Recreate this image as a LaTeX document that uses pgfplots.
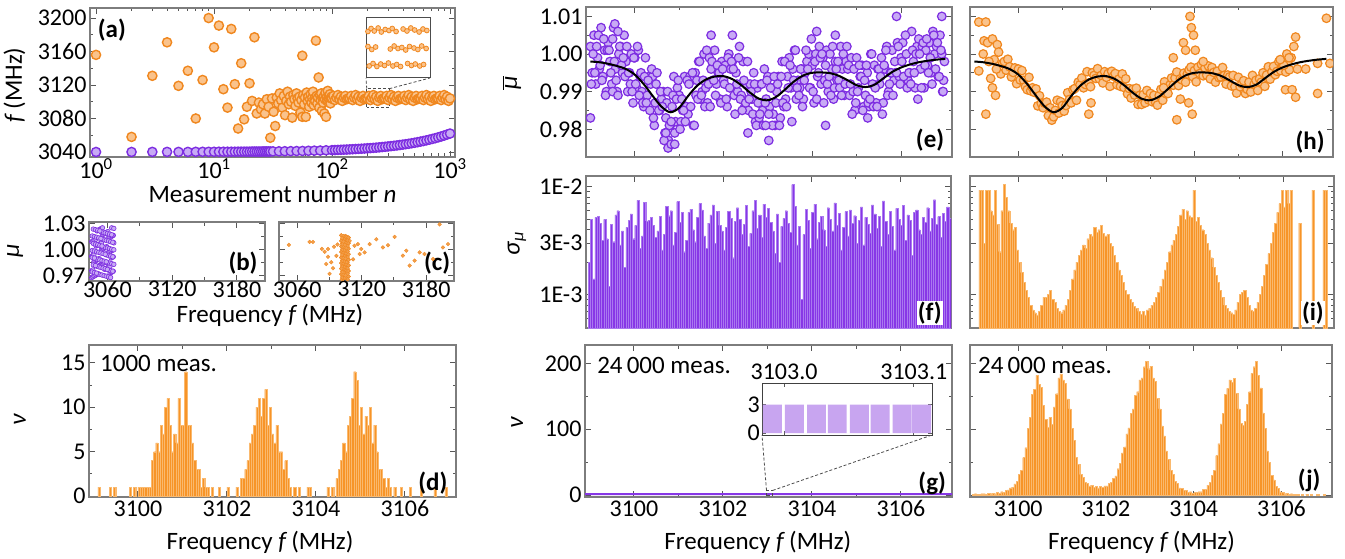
\documentclass[border=0pt]{standalone}
\usepackage{fontspec}
\setmainfont{Carlito}
\usepackage{pgfplots}
\pgfplotsset{compat=1.18}
\definecolor{oD}{RGB}{240,135,30}
\definecolor{oL}{RGB}{250,195,140}
\definecolor{oBar}{RGB}{247,148,40}
\definecolor{oEdge}{RGB}{250,185,110}
\definecolor{pD}{RGB}{125,45,225}
\definecolor{pL}{RGB}{200,170,245}
\definecolor{pBar}{RGB}{135,55,230}
\definecolor{pEdge}{RGB}{170,120,240}
\definecolor{pIn}{RGB}{200,165,240}
\definecolor{fr}{RGB}{125,125,125}
\newcommand{\tfont}{\fontsize{24}{26}\selectfont}
\newcommand{\lfont}{\fontsize{25}{28}\selectfont}
\tikzset{plabel/.style={font=\lfont\bfseries, inner sep=1pt}}
\pgfplotsset{
  panel/.style={scale only axis, anchor=north west, axis line style={fr, line width=1.1pt},
    tick style={fr!70!black, line width=0.9pt}, tick align=inside, major tick length=6pt, minor tick length=3.5pt,
    tick pos=both, tick label style={font=\tfont, text=black}, label style={font=\lfont},
    ylabel style={anchor=center}, xlabel style={anchor=center}},
  fgrid/.style={xmin=3098.9, xmax=3107.15, xtick={3100,3102,3104,3106}, minor x tick num=1},
  oMk/.style={only marks, mark=*, mark size=4.6pt, mark options={draw=oD, fill=oL, line width=1.4pt}},
  pMk/.style={only marks, mark=*, mark size=4.6pt, mark options={draw=pD, fill=pL, line width=1.4pt}},
  oMkS/.style={only marks, mark=*, mark size=4.3pt, mark options={draw=oD, fill=oL, line width=1.2pt}},
  pMkS/.style={only marks, mark=*, mark size=4.3pt, mark options={draw=pD, fill=pL, line width=1.2pt}},
}
\begin{document}
\begin{tikzpicture}
\path[use as bounding box] (0,0) rectangle (1345pt,-559pt);

% ---------------- (a)
\begin{axis}[panel, at={(90pt,-8pt)}, width=365pt, height=149pt,
  xmode=log, xmin=0.889, xmax=1102, ymin=3034, ymax=3212,
  xtick={1,10,100,1000}, xticklabels={10\textsuperscript{0},10\textsuperscript{1},10\textsuperscript{2},10\textsuperscript{3}},
  xticklabel style={inner sep=1pt},
  minor xtick={2,3,4,5,6,7,8,9,20,30,40,50,60,70,80,90,200,300,400,500,600,700,800,900},
  ytick={3040,3080,3120,3160,3200}, yticklabels={3040,3080,3120,3160,3200}, minor ytick={3060,3100,3140,3180},
  xlabel={Measurement number \textit{n}}, xlabel style={inner sep=0pt, at={(axis description cs:0.5,-0.25)}},
  ylabel={\textit{f}\,(MHz)}, ylabel style={at={(axis description cs:-0.207,0.483)}}]
\addplot[pMk] coordinates {(1,3040.0)(2,3040.0)(3,3040.1)(4,3040.1)(5,3040.1)(6,3040.1)(7,3040.2)(8,3040.2)(9,3040.2)(10,3040.2)
(11,3040.3)(12,3040.3)(13,3040.3)(14,3040.3)(15,3040.3)(16,3040.4)(17,3040.4)(18,3040.4)(19,3040.4)(20,3040.4)
(21,3040.5)(22,3040.5)(23,3040.5)(24,3040.5)(25,3040.5)(26,3040.6)(27,3040.6)(28,3040.6)(29,3040.6)(30,3040.6)
(31.6,3040.7)(35.5,3040.8)(39.8,3040.9)(44.7,3041.0)(50.1,3041.1)(56.2,3041.2)(63.1,3041.4)(70.8,3041.6)(79.4,3041.7)(89.1,3042.0)
(100,3042.2)(105.9,3042.3)(112.2,3042.5)(118.9,3042.6)(125.9,3042.8)(133.4,3042.9)(141.3,3043.1)(149.6,3043.3)(158.5,3043.5)(167.9,3043.7)
(177.8,3043.9)(188.4,3044.1)(199.5,3044.4)(211.3,3044.6)(223.9,3044.9)(237.1,3045.2)(251.2,3045.5)(266.1,3045.9)(281.8,3046.2)(298.5,3046.6)
(316.2,3047.0)(335,3047.4)(354.8,3047.8)(375.8,3048.3)(398.1,3048.8)(421.7,3049.3)(446.7,3049.8)(473.2,3050.4)(501.2,3051.0)(530.9,3051.7)
(562.3,3052.4)(595.7,3053.1)(631,3053.9)(668.3,3054.7)(707.9,3055.6)(749.9,3056.5)(794.3,3057.5)(841.4,3058.5)(891.3,3059.6)(944.1,3060.8)(1000,3062.0)};
\addplot[oMk] coordinates {(1,3156)(2,3058)(3,3131)(4,3171)(5,3119)(6,3137)(7,3080)(8,3126)(9,3200)(10,3165)
(11,3191)(12,3115)(13,3093)(14,3187)(15,3121)(16,3068)(17,3146)(18,3079)(19,3094)(20,3122)(21,3101)(22,3177)(23,3086)
(24,3099)(25,3091)(26,3097)(27,3086)(28,3103)(29,3094)(30,3057)(31,3104)(32,3088)(33,3071)(34,3105)(35,3098)(36,3110)(37,3102)(38,3093)(39,3107)
(40,3084)(41,3101)(42,3112)(43,3097)(44,3106)(45,3100)(46,3081)(47,3108)(48,3103)(49,3095)(50,3110)(51,3104)(52,3099)(53,3106)(54,3087)(55,3102)
(56,3155)(56,3082)(57,3108)(58,3097)(59,3105)(60,3082)(61,3111)(62,3101)(63,3106)(64,3094)(65,3103)(66,3109)(67,3099)(68,3105)(69,3112)(70,3096)
(71,3104)(72,3101)(73,3173)(74,3107)(75,3098)(76,3105)(77,3129)(78,3093)(79,3108)(80,3102)(81,3110)(82,3089)(83,3104)(84,3099)(85,3106)
(86,3086)(87,3103)(88,3111)(89,3082)(90,3105)(91,3101)(92,3113)(93,3100)(94,3107)(95,3103)(96,3109)(97,3098)(98,3104)(99,3106)
(100,3104)(102.9,3107)(105.9,3102)(109.0,3105)(112.2,3108)(115.5,3103)(118.9,3106)(122.3,3101)(125.9,3105)(129.6,3107)(133.4,3103)(137.2,3104)
(141.3,3104)(145.4,3107)(149.6,3102)(154.0,3105)(158.5,3108)(163.1,3103)(167.9,3106)(172.8,3101)(177.8,3105)(183.0,3107)(188.4,3103)(193.9,3104)
(199.5,3104)(205.4,3107)(211.3,3102)(217.5,3105)(223.9,3108)(230.4,3103)(237.1,3106)(244.1,3101)(251.2,3105)(258.5,3107)(266.1,3103)(273.8,3104)
(281.8,3104)(290.0,3107)(298.5,3102)(307.2,3105)(316.2,3108)(325.4,3103)(335.0,3106)(344.7,3101)(354.8,3105)(365.2,3107)(375.8,3103)(386.8,3104)
(398.1,3104)(409.7,3107)(421.7,3102)(434.0,3105)(446.7,3108)(459.7,3103)(473.2,3106)(487.0,3101)(501.2,3105)(515.8,3107)(530.9,3103)(546.4,3104)
(562.3,3104)(578.7,3107)(595.7,3102)(613.1,3105)(631.0,3108)(649.4,3103)(668.3,3106)(687.8,3101)(707.9,3105)(728.6,3107)(749.9,3103)(771.8,3104)
(794.3,3104)(817.5,3107)(841.4,3102)(866.0,3105)(891.3,3108)(917.3,3103)(944.1,3106)(971.6,3101)(1000,3104)};
\draw[densely dashed, black!70, line width=0.8pt] (axis cs:197,3093.5) rectangle (axis cs:306,3115.6);
\coordinate (rTL) at (axis cs:197,3115.6);
\coordinate (rTR) at (axis cs:306,3115.6);
\node[plabel] at (rel axis cs:0.06,0.852) {(a)};
\end{axis}
\begin{axis}[panel, at={(366pt,-18pt)}, width=64pt, height=60pt, xmin=200, xmax=300, ymin=3098, ymax=3110,
  xtick=\empty, ytick=\empty, axis background/.style={fill=white}, axis line style={black!70, line width=1pt}]
\addplot[only marks, mark=*, mark size=2.4pt, mark options={draw=oD, fill=oL, line width=0.8pt}] coordinates {
(203,3107.3)(208,3107.9)(213,3107.4)(219,3108.0)(224,3107.2)(230,3107.7)(236,3107.5)(241,3107.9)(247,3107.3)(258,3107.8)(264,3107.4)(270,3108.0)(276,3107.6)(283,3107.2)(289,3107.8)(295,3107.5)
(203,3104.3)(209,3103.7)(215,3104.2)(238,3103.8)(244,3104.4)(250,3103.9)(256,3104.1)(262,3103.6)(268,3104.3)(275,3104.0)(281,3103.7)(287,3104.4)(294,3103.9)
(205,3100.4)(211,3100.9)(217,3100.3)(223,3100.8)(229,3100.5)(235,3101.0)(242,3100.4)(248,3100.7)(254,3100.3)(265,3100.9)(271,3100.5)(277,3100.8)(284,3100.4)(290,3100.7)};
\end{axis}
\draw[densely dashed, black!70, line width=0.8pt] (rTL) -- (366pt,-78pt);
\draw[densely dashed, black!70, line width=0.8pt] (rTR) -- (430pt,-78pt);

% ---------------- (b)
\begin{axis}[panel, at={(89pt,-222pt)}, width=176pt, height=59pt,
  xmin=3043, xmax=3206, ymin=0.964, ymax=1.032,
  xtick={3060,3120,3180}, xticklabels={3060,3120,3180}, minor x tick num=1,
  xticklabel style={inner sep=0pt},
  ytick={0.97,1.00,1.03}, yticklabels={0.97,1.00,1.03}, minor y tick num=1,
  ylabel={\textit{μ}}, ylabel style={at={(axis description cs:-0.42,0.508)}},
  xlabel={Frequency \textit{f}\,(MHz)}, xlabel style={inner sep=0pt, at={(axis description cs:1.028,-0.59)}}]
\addplot[only marks, mark=*, mark size=2.3pt, mark options={draw=pD, fill=pL, line width=0.6pt}] coordinates {
(3045.5,0.9680)(3058.5,0.9948)(3050.5,1.0217)(3063.5,0.9905)(3055.5,1.0173)(3047.5,0.9861)(3060.5,1.0130)(3052.5,0.9818)(3065.5,1.0086)(3057.5,0.9774)
(3049.5,1.0043)(3062.5,0.9731)(3054.5,1.0000)(3046.5,0.9687)(3059.5,0.9956)(3051.5,1.0224)(3064.5,0.9912)(3056.5,1.0180)(3048.5,0.9869)(3061.5,1.0137)
(3053.5,0.9825)(3045.5,1.0093)(3058.5,0.9782)(3050.5,1.0050)(3063.5,0.9738)(3055.5,1.0006)(3047.5,0.9695)(3060.5,0.9963)(3052.5,1.0231)(3065.5,0.9919)
(3057.5,1.0188)(3049.5,0.9876)(3062.5,1.0144)(3054.5,0.9832)(3046.5,1.0101)(3059.5,0.9789)(3051.5,1.0057)(3064.5,0.9745)(3056.5,1.0014)(3048.5,0.9702)
(3061.5,0.9970)(3053.5,1.0238)(3045.5,0.9927)(3058.5,1.0195)(3050.5,0.9883)(3063.5,1.0151)(3055.5,0.9840)(3047.5,1.0108)(3060.5,0.9796)(3052.5,1.0064)
(3065.5,0.9753)(3057.5,1.0021)(3049.5,0.9709)(3062.5,0.9977)(3054.5,1.0246)(3046.5,0.9934)(3059.5,1.0202)(3051.5,0.9890)(3064.5,1.0159)(3056.5,0.9847)
(3048.5,1.0115)(3061.5,0.9803)(3053.5,1.0072)(3045.5,0.9760)(3058.5,1.0028)(3050.5,0.9716)(3063.5,0.9985)(3055.5,1.0253)(3047.5,0.9941)(3060.5,1.0209)
(3052.5,0.9898)(3065.5,1.0166)(3057.5,0.9854)(3049.5,1.0122)(3062.5,0.9811)(3054.5,1.0079)(3046.5,0.9767)(3059.5,1.0035)(3051.5,0.9724)(3064.5,0.9992)
(3046.0,0.9992)(3051.0,0.9724)(3056.0,1.0035)(3061.0,0.9767)(3066.0,1.0079)(3050.0,0.9811)(3055.0,1.0122)(3060.0,0.9854)(3065.0,1.0166)(3049.0,0.9898)
(3054.0,1.0209)(3059.0,0.9941)(3064.0,1.0253)(3048.0,0.9985)(3053.0,0.9716)(3058.0,1.0028)(3063.0,0.9760)(3047.0,1.0072)(3052.0,0.9803)(3057.0,1.0115)
(3062.0,0.9847)(3046.0,1.0159)(3051.0,0.9890)(3056.0,1.0202)(3061.0,0.9934)(3066.0,1.0246)(3050.0,0.9977)(3055.0,0.9709)(3060.0,1.0021)(3065.0,0.9753)
(3049.0,1.0064)(3054.0,0.9796)(3059.0,1.0108)(3064.0,0.9840)(3048.0,1.0151)(3053.0,0.9883)(3058.0,1.0195)(3063.0,0.9927)(3047.0,1.0238)(3052.0,0.9970)
(3057.0,0.9702)(3062.0,1.0014)(3046.0,0.9745)(3051.0,1.0057)(3056.0,0.9789)(3061.0,1.0101)(3066.0,0.9832)(3050.0,1.0144)(3055.0,0.9876)(3060.0,1.0188)
(3065.0,0.9919)(3049.0,1.0231)(3054.0,0.9963)(3059.0,0.9695)(3064.0,1.0006)(3048.0,0.9738)(3053.0,1.0050)(3058.0,0.9782)(3063.0,1.0093)(3047.0,0.9825)
(3052.0,1.0137)(3057.0,0.9869)(3062.0,1.0180)(3046.0,0.9912)(3051.0,1.0224)(3056.0,0.9956)(3061.0,0.9687)(3066.0,1.0000)(3050.0,0.9731)(3055.0,1.0043)
(3060.0,0.9774)(3065.0,1.0086)(3049.0,0.9818)(3054.0,1.0130)(3059.0,0.9861)(3064.0,1.0173)(3048.0,0.9905)(3053.0,1.0217)(3058.0,0.9948)(3063.0,0.9680)};
\node[plabel] at (rel axis cs:0.875,0.305) {(b)};
\end{axis}

% ---------------- (c)
\begin{axis}[panel, at={(279pt,-222pt)}, width=175pt, height=59pt,
  xmin=3043, xmax=3206, ymin=0.964, ymax=1.032,
  xtick={3060,3120,3180}, xticklabels={3060,3120,3180}, minor x tick num=1,
  xticklabel style={inner sep=0pt},
  ytick={0.97,1.00,1.03}, yticklabels={}, minor y tick num=1]
\addplot[only marks, mark=*, mark size=1.9pt, mark options={draw=oD, fill=oD!80, line width=0.3pt}] coordinates {
(3101.5,0.9660)(3104.0,0.9897)(3106.5,1.0134)(3102.8,0.9858)(3105.2,1.0095)(3108.0,0.9820)(3103.3,1.0057)(3100.9,0.9782)(3107.2,1.0018)(3104.6,0.9743)
(3101.5,0.9980)(3104.0,0.9705)(3106.5,0.9942)(3102.8,0.9666)(3105.2,0.9903)(3108.0,1.0140)(3103.3,0.9865)(3100.9,1.0102)(3107.2,0.9826)(3104.6,1.0063)
(3101.5,0.9788)(3104.0,1.0025)(3106.5,0.9750)(3102.8,0.9986)(3105.2,0.9711)(3108.0,0.9948)(3103.3,0.9673)(3100.9,0.9910)(3107.2,1.0146)(3104.6,0.9871)
(3101.5,1.0108)(3104.0,0.9833)(3106.5,1.0070)(3102.8,0.9794)(3105.2,1.0031)(3108.0,0.9756)(3103.3,0.9993)(3100.9,0.9718)(3107.2,0.9954)(3104.6,0.9679)
(3101.5,0.9916)(3104.0,1.0153)(3106.5,0.9878)(3102.8,1.0114)(3105.2,0.9839)(3108.0,1.0076)(3103.3,0.9801)(3100.9,1.0038)(3107.2,0.9762)(3104.6,0.9999)
(3101.5,0.9724)(3104.0,0.9961)(3106.5,0.9686)(3102.8,0.9922)(3105.2,1.0159)(3108.0,0.9884)(3103.3,1.0121)(3100.9,0.9846)(3107.2,1.0082)(3104.6,0.9807)
(3101.5,1.0044)(3104.0,0.9769)(3106.5,1.0006)(3102.8,0.9730)(3105.2,0.9967)(3108.0,0.9692)(3103.3,0.9929)(3100.9,1.0166)(3107.2,0.9890)(3104.6,1.0127)
(3101.5,0.9852)(3104.0,1.0089)(3106.5,0.9814)(3102.8,1.0050)(3105.2,0.9775)(3108.0,1.0012)(3103.3,0.9737)(3100.9,0.9974)(3107.2,0.9698)(3104.6,0.9935)
(3102.2,0.9935)(3105.8,0.9698)(3101.2,0.9974)(3104.3,0.9737)(3107.6,1.0012)(3103.0,0.9775)(3106.0,1.0050)(3101.8,0.9814)(3104.9,1.0089)(3107.0,0.9852)
(3102.2,1.0127)(3105.8,0.9890)(3101.2,1.0166)(3104.3,0.9929)(3107.6,0.9692)(3103.0,0.9967)(3106.0,0.9730)(3101.8,1.0006)(3104.9,0.9769)(3107.0,1.0044)
(3102.2,0.9807)(3105.8,1.0082)(3101.2,0.9846)(3104.3,1.0121)(3107.6,0.9884)(3103.0,1.0159)(3106.0,0.9922)(3101.8,0.9686)(3104.9,0.9961)(3107.0,0.9724)
(3102.2,0.9999)(3105.8,0.9762)(3101.2,1.0038)(3104.3,0.9801)(3107.6,1.0076)(3103.0,0.9839)(3106.0,1.0114)(3101.8,0.9878)(3104.9,1.0153)(3107.0,0.9916)
(3102.2,0.9679)(3105.8,0.9954)(3101.2,0.9718)(3104.3,0.9993)(3107.6,0.9756)(3103.0,1.0031)(3106.0,0.9794)(3101.8,1.0070)(3104.9,0.9833)(3107.0,1.0108)
(3102.2,0.9871)(3105.8,1.0146)(3101.2,0.9910)(3104.3,0.9673)(3107.6,0.9948)(3103.0,0.9711)(3106.0,0.9986)(3101.8,0.9750)(3104.9,1.0025)(3107.0,0.9788)
(3102.2,1.0063)(3105.8,0.9826)(3101.2,1.0102)(3104.3,0.9865)(3107.6,1.0140)(3103.0,0.9903)(3106.0,0.9666)(3101.8,0.9942)(3104.9,0.9705)(3107.0,0.9980)
(3102.2,0.9743)(3105.8,1.0018)(3101.2,0.9782)(3104.3,1.0057)(3107.6,0.9820)(3103.0,1.0095)(3106.0,0.9858)(3101.8,1.0134)(3104.9,0.9897)(3107.0,0.9660)
(3052.2,1.0057)(3071.5,1.0090)(3074.6,1.0090)(3085.5,0.9977)(3088.6,0.9920)(3091.7,0.9856)(3087.0,0.9837)(3093.2,0.9787)(3090.1,0.9723)(3088.6,1.0008)
(3094.2,1.0034)(3116.5,1.0065)(3119.6,1.0008)(3122.7,0.9970)(3127.4,1.0065)(3133.6,1.0120)(3139.8,1.0027)(3144.5,1.0053)(3150.7,1.0148)(3158.4,0.9932)
(3161.6,0.9989)(3169.3,0.9875)(3174.0,0.9970)(3178.6,0.9951)(3186.4,0.9894)(3192.6,1.0292)(3195.7,1.0027)(3200.4,1.0065)(3164.7,0.9818)(3108.8,1.0103)
(3113.4,1.0046)(3118.1,0.9951)(3096.5,0.9930)(3097.5,1.0060)(3112.0,0.9890)(3083.0,1.0010)};
\node[plabel] at (rel axis cs:0.903,0.305) {(c)};
\end{axis}

% ---------------- (d)
\begin{axis}[panel, fgrid, at={(89pt,-345pt)}, width=367pt, height=152pt,
  ymin=-0.1, ymax=17, xticklabels={3100,3102,3104,3106},
  ytick={0,5,10,15}, yticklabels={0,5,10,15}, minor y tick num=1,
  ylabel={\textit{ν}}, ylabel style={at={(axis description cs:-0.188,0.507)}},
  xlabel={Frequency \textit{f}\,(MHz)}, xlabel style={at={(axis description cs:0.466,-0.296)}}]
\addplot[ybar, bar width=0.05, bar shift=0pt, fill=oBar, draw=oEdge, line width=0.3pt] coordinates {
(3099.125,1)(3099.375,1)(3099.475,1)(3099.825,1)(3099.925,1)(3100.025,1)(3100.075,1)(3100.125,1)(3100.175,1)(3100.225,1)(3100.275,1)
(3100.325,4)(3100.375,5)(3100.425,6)(3100.475,5)(3100.525,8)(3100.575,7)(3100.625,10)(3100.675,11)(3100.725,8)(3100.775,5)(3100.825,7)(3100.875,6)
(3100.925,11)(3100.975,8)(3101.025,8)(3101.075,14)(3101.125,8)(3101.175,8)(3101.225,6)(3101.275,4)(3101.325,3)(3101.375,3)(3101.425,1)(3101.475,2)
(3101.525,1)(3101.575,1)(3101.675,1)(3101.825,1)(3102.025,1)(3102.225,1)(3102.325,2)(3102.375,2)(3102.425,3)(3102.475,4)(3102.525,6)(3102.575,7)
(3102.625,8)(3102.675,10)(3102.725,11)(3102.775,9)(3102.825,11)(3102.875,12)(3102.925,8)(3102.975,10)(3103.025,7)(3103.075,6)(3103.125,8)(3103.175,5)
(3103.225,5)(3103.275,3)(3103.325,4)(3103.375,2)(3103.425,1)(3103.525,1)(3103.625,1)(3103.825,1)(3103.875,1)(3104.275,1)(3104.375,1)(3104.475,2)
(3104.525,3)(3104.575,4)(3104.625,6)(3104.675,5)(3104.725,8)(3104.775,9)(3104.825,11)(3104.875,14)(3104.925,13)(3104.975,8)(3105.025,10)(3105.075,7)
(3105.125,9)(3105.175,8)(3105.225,10)(3105.275,6)(3105.325,8)(3105.375,5)(3105.425,3)(3105.475,3)(3105.525,2)(3105.575,1)(3105.625,2)(3105.675,1)
(3105.775,1)(3105.925,1)(3106.125,1)(3106.375,1)(3106.675,1)(3106.925,1)};
\node[font=\lfont, anchor=west, inner sep=0pt] at (rel axis cs:0.03,0.88) {1000 meas.};
\node[plabel] at (rel axis cs:0.937,0.092) {(d)};
\end{axis}

% ---------------- (e)
\begin{axis}[panel, fgrid, clip marker paths=true, at={(586pt,-7pt)}, width=366pt, height=150pt,
  ymin=0.9726, ymax=1.0125, xticklabels={},
  ytick={0.98,0.99,1.00,1.01}, yticklabels={0.98,0.99,1.00,1.01}, minor y tick num=1,
  ylabel={$\overline{\mbox{\itshape μ}}$}, ylabel style={at={(axis description cs:-0.202,0.493)}}]
\addplot[pMkS] coordinates {
(3099.00,1.002)(3099.04,0.995)(3099.08,1.005)(3099.12,0.992)(3099.16,0.999)(3099.20,0.996)(3099.24,1.007)(3099.28,0.994)(3099.32,1.001)(3099.36,0.990)
(3099.40,1.003)(3099.44,0.998)(3099.48,0.992)(3099.52,1.007)(3099.56,0.996)(3099.60,0.990)(3099.64,1.000)(3099.68,1.002)(3099.72,0.995)(3099.76,1.005)
(3099.80,0.998)(3099.84,0.990)(3099.88,0.995)(3099.92,1.000)(3099.96,0.987)(3100.00,0.999)(3100.04,0.991)(3100.08,1.001)(3100.12,0.994)(3100.16,0.990)
(3100.20,0.986)(3100.24,0.999)(3100.28,0.989)(3100.32,0.994)(3100.36,0.992)(3100.40,0.994)(3100.44,0.981)(3100.48,0.992)(3100.52,0.987)(3100.56,0.985)
(3100.60,0.988)(3100.64,0.990)(3100.68,0.979)(3100.72,0.987)(3100.76,0.977)(3100.80,0.981)(3100.84,0.986)(3100.88,0.994)(3100.92,0.982)(3100.96,0.991)
(3101.00,0.989)(3101.04,0.982)(3101.08,0.985)(3101.12,0.994)(3101.16,0.986)(3101.20,0.984)(3101.24,0.994)(3101.28,0.993)(3101.32,0.981)(3101.36,0.995)
(3101.40,0.993)(3101.44,0.998)(3101.48,0.988)(3101.52,0.990)(3101.56,1.000)(3101.60,0.991)(3101.64,0.987)(3101.68,0.999)(3101.72,0.996)(3101.76,0.993)
(3101.80,1.001)(3101.84,0.992)(3101.88,0.995)(3101.92,0.988)(3101.96,0.998)(3102.00,0.993)(3102.04,0.997)(3102.08,0.986)(3102.12,1.000)(3102.16,0.996)
(3102.20,0.998)(3102.24,0.989)(3102.28,0.995)(3102.32,0.990)(3102.36,1.002)(3102.40,0.989)(3102.44,0.998)(3102.48,0.986)(3102.52,0.992)(3102.56,0.985)
(3102.60,0.992)(3102.64,0.988)(3102.68,0.995)(3102.72,0.982)(3102.76,0.991)(3102.80,0.983)(3102.84,0.992)(3102.88,0.985)(3102.92,0.996)(3102.96,0.988)
(3103.00,0.994)(3103.04,0.986)(3103.08,0.991)(3103.12,0.984)(3103.16,0.981)(3103.20,0.990)(3103.24,0.994)(3103.28,0.983)(3103.32,0.998)(3103.36,0.986)
(3103.40,0.988)(3103.44,0.994)(3103.48,0.999)(3103.52,0.991)(3103.56,0.996)(3103.60,1.001)(3103.64,0.988)(3103.68,0.993)(3103.72,0.991)(3103.76,0.996)
(3103.80,0.988)(3103.84,0.995)(3103.88,0.998)(3103.92,1.000)(3103.96,0.991)(3104.00,0.997)(3104.04,0.987)(3104.08,1.000)(3104.12,0.994)(3104.16,1.002)
(3104.20,0.992)(3104.24,0.999)(3104.28,0.993)(3104.32,1.001)(3104.36,0.990)(3104.40,1.000)(3104.44,0.996)(3104.48,0.988)(3104.52,0.998)(3104.56,0.993)
(3104.60,0.993)(3104.64,1.002)(3104.68,0.996)(3104.72,0.989)(3104.76,0.998)(3104.80,0.996)(3104.84,0.989)(3104.88,0.999)(3104.92,0.990)(3104.96,0.985)
(3105.00,0.999)(3105.04,0.991)(3105.08,0.994)(3105.12,0.997)(3105.16,0.986)(3105.20,0.989)(3105.24,0.995)(3105.28,0.986)(3105.32,1.000)(3105.36,0.992)
(3105.40,0.997)(3105.44,0.987)(3105.48,0.996)(3105.52,0.992)(3105.56,0.999)(3105.60,0.987)(3105.64,0.996)(3105.68,1.002)(3105.72,0.990)(3105.76,0.995)
(3105.80,1.001)(3105.84,0.993)(3105.88,0.995)(3105.92,1.003)(3105.96,0.994)(3106.00,0.999)(3106.04,1.003)(3106.08,0.992)(3106.12,1.000)(3106.16,0.993)
(3106.20,0.995)(3106.24,1.006)(3106.28,0.998)(3106.32,0.991)(3106.36,1.002)(3106.40,1.004)(3106.44,0.996)(3106.48,1.002)(3106.52,0.991)(3106.56,1.001)
(3106.60,0.997)(3106.64,1.003)(3106.68,0.995)(3106.72,1.006)(3106.76,1.000)(3106.80,1.002)(3106.84,0.994)(3106.88,1.005)(3106.92,1.000)(3106.96,0.993)
(3099.02,0.992)(3099.06,1.000)(3099.10,0.995)(3099.14,1.002)(3099.18,1.005)(3099.22,0.997)(3099.26,0.993)(3099.30,1.004)(3099.34,0.989)(3099.38,1.001)
(3099.42,1.001)(3099.46,0.995)(3099.50,0.990)(3099.54,0.998)(3099.58,0.993)(3099.62,0.989)(3099.66,1.002)(3099.70,0.997)(3099.74,0.999)(3099.78,0.994)
(3099.82,1.002)(3099.86,0.995)(3099.90,0.992)(3099.94,0.990)(3099.98,0.999)(3100.02,0.992)(3100.06,1.002)(3100.10,0.989)(3100.14,0.995)(3100.18,0.987)
(3100.22,0.994)(3100.26,0.987)(3100.30,0.993)(3100.34,0.985)(3100.38,0.996)(3100.42,0.983)(3100.46,0.987)(3100.50,0.995)(3100.54,0.985)(3100.58,0.990)
(3100.62,0.986)(3100.66,0.977)(3100.70,0.983)(3100.74,0.990)(3100.78,0.981)(3100.82,0.982)(3100.86,0.989)(3100.90,0.979)(3100.94,0.988)(3100.98,0.993)
(3101.02,0.980)(3101.06,0.988)(3101.10,0.985)(3101.14,0.982)(3101.18,0.993)(3101.22,0.992)(3101.26,0.986)(3101.30,0.995)(3101.34,0.981)(3101.38,0.989)
(3101.42,0.988)(3101.46,0.998)(3101.50,0.989)(3101.54,0.993)(3101.58,0.986)(3101.62,1.001)(3101.66,0.992)(3101.70,0.986)(3101.74,0.998)(3101.78,0.993)
(3101.82,0.989)(3101.86,0.997)(3101.90,0.995)(3101.94,0.987)(3101.98,0.996)(3102.02,0.992)(3102.06,0.988)(3102.10,0.999)(3102.14,0.991)(3102.18,0.998)
(3102.22,0.996)(3102.26,0.984)(3102.30,0.992)(3102.34,0.999)(3102.38,0.988)(3102.42,0.985)(3102.46,0.993)(3102.50,0.987)(3102.54,0.998)(3102.58,0.988)
(3102.62,0.990)(3102.66,0.984)(3102.70,0.992)(3102.74,0.981)(3102.78,0.987)(3102.82,0.984)(3102.86,0.992)(3102.90,0.981)(3102.94,0.987)(3102.98,0.993)
(3103.02,0.984)(3103.06,0.991)(3103.10,0.981)(3103.14,0.994)(3103.18,0.987)(3103.22,0.992)(3103.26,0.981)(3103.30,0.994)(3103.34,0.987)(3103.38,0.998)
(3103.42,0.986)(3103.46,0.991)(3103.50,0.997)(3103.54,0.982)(3103.58,0.993)(3103.62,1.001)(3103.66,0.991)(3103.70,0.989)(3103.74,0.996)(3103.78,0.986)
(3103.82,0.993)(3103.86,1.001)(3103.90,0.996)(3103.94,0.991)(3103.98,1.004)(3104.02,0.990)(3104.06,0.998)(3104.10,0.988)(3104.14,0.995)(3104.18,0.999)
(3104.22,1.000)(3104.26,0.987)(3104.30,0.997)(3104.34,0.992)(3104.38,0.994)(3104.42,0.989)(3104.46,1.002)(3104.50,0.991)(3104.54,0.996)(3104.58,0.998)
(3104.62,0.991)(3104.66,0.989)(3104.70,1.000)(3104.74,0.992)(3104.78,1.002)(3104.82,0.997)(3104.86,0.992)(3104.90,0.984)(3104.94,0.996)(3104.98,0.987)
(3105.02,0.990)(3105.06,0.997)(3105.10,0.994)(3105.14,0.985)(3105.18,0.993)(3105.22,0.997)(3105.26,0.987)(3105.30,0.988)(3105.34,1.000)(3105.38,0.986)
(3105.42,0.991)(3105.46,0.986)(3105.50,0.996)(3105.54,0.994)(3105.58,0.984)(3105.62,0.997)(3105.66,1.001)(3105.70,0.989)(3105.74,0.992)(3105.78,0.995)
(3105.82,0.989)(3105.86,0.998)(3105.90,0.995)(3105.94,1.002)(3105.98,0.992)(3106.02,0.998)(3106.06,0.994)(3106.10,1.005)(3106.14,0.991)(3106.18,0.995)
(3106.22,0.992)(3106.26,1.001)(3106.30,0.995)(3106.34,1.000)(3106.38,0.988)(3106.42,1.000)(3106.46,0.991)(3106.50,1.003)(3106.54,0.997)(3106.58,1.004)
(3106.62,0.995)(3106.66,0.999)(3106.70,0.992)(3106.74,1.005)(3106.78,0.996)(3106.82,1.003)(3106.86,0.994)(3106.90,1.001)(3106.94,0.990)(3106.98,0.998)
(3099.55,1.008)(3099.62,1.006)(3099.50,1.004)(3100.75,0.975)(3100.82,0.976)(3100.90,0.976)(3100.70,0.979)(3102.55,0.979)(3103.02,0.977)(3102.95,0.981)
(3105.90,1.010)(3106.92,1.010)(3101.72,1.005)(3102.20,1.005)(3104.10,1.006)(3104.52,1.005)(3104.30,0.981)(3105.25,0.983)(3099.00,0.983)(3106.95,0.990)};
\addplot[black, line width=2pt, smooth] coordinates {(3099.0,0.9980)(3099.2,0.9978)(3099.4,0.9974)(3099.6,0.9968)(3099.8,0.9960)(3100.0,0.9945)(3100.2,0.9920)(3100.4,0.9889)(3100.6,0.9860)(3100.8,0.9845)(3101.0,0.9857)(3101.2,0.9888)(3101.4,0.9915)(3101.6,0.9932)(3101.8,0.9940)(3102.0,0.9941)(3102.2,0.9933)(3102.4,0.9917)(3102.6,0.9897)(3102.8,0.9881)(3103.0,0.9877)(3103.2,0.9887)(3103.4,0.9907)(3103.6,0.9928)(3103.8,0.9943)(3104.0,0.9950)(3104.2,0.9951)(3104.4,0.9949)(3104.6,0.9942)(3104.8,0.9930)(3105.0,0.9917)(3105.2,0.9912)(3105.4,0.9918)(3105.6,0.9935)(3105.8,0.9952)(3106.0,0.9964)(3106.2,0.9972)(3106.4,0.9978)(3106.6,0.9982)(3106.8,0.9985)(3107.0,0.9987)};
\node[plabel] at (rel axis cs:0.94,0.113) {(e)};
\end{axis}

% ---------------- (f)
\begin{axis}[panel, fgrid, at={(586pt,-176pt)}, width=365pt, height=152pt,
  ymode=log, log origin y=infty, ymin=4.9e-4, ymax=1.26e-2, xticklabels={},
  ytick={1e-3,3e-3,1e-2}, yticklabels={1E-3,3E-3,1E-2},
  minor ytick={5e-4,6e-4,7e-4,8e-4,9e-4,2e-3,4e-3,5e-3,6e-3,7e-3,8e-3,9e-3},
  ylabel={\textit{σ}\textsubscript{\textit{μ}}}, ylabel style={at={(axis description cs:-0.189,0.553)}}]
\addplot[ybar, bar width=0.05, bar shift=0pt, fill=pBar, draw=pEdge, line width=0.3pt] coordinates {
(3098.975,2.0e-3)(3099.025,5.0e-3)(3099.075,1.4e-3)(3099.125,5.2e-3)(3099.175,5.3e-3)(3099.225,4.6e-3)(3099.275,3.2e-3)(3099.325,5.0e-3)(3099.375,3.3e-3)(3099.425,1.2e-3)
(3099.475,4.5e-3)(3099.525,3.1e-3)(3099.575,5.5e-3)(3099.625,6.0e-3)(3099.675,2.9e-3)(3099.725,3.9e-3)(3099.775,1.8e-3)(3099.825,4.2e-3)(3099.875,4.9e-3)(3099.925,5.6e-3)
(3099.975,3.3e-3)(3100.025,4.4e-3)(3100.075,7.5e-3)(3100.125,2.7e-3)(3100.175,3.5e-3)(3100.225,7.2e-3)(3100.275,4.8e-3)(3100.325,4.9e-3)(3100.375,5.2e-3)(3100.425,4.4e-3)
(3100.475,3.4e-3)(3100.525,3.9e-3)(3100.575,5.3e-3)(3100.625,2.6e-3)(3100.675,3.6e-3)(3100.725,6.6e-3)(3100.775,5.4e-3)(3100.825,6.0e-3)(3100.875,2.9e-3)(3100.925,3.8e-3)
(3100.975,7.3e-3)(3101.025,4.7e-3)(3101.075,5.8e-3)(3101.125,2.5e-3)(3101.175,3.2e-3)(3101.225,5.8e-3)(3101.275,6.2e-3)(3101.325,4.0e-3)(3101.375,3.1e-3)(3101.425,5.2e-3)
(3101.475,7.0e-3)(3101.525,6.1e-3)(3101.575,3.5e-3)(3101.625,2.7e-3)(3101.675,4.6e-3)(3101.725,5.5e-3)(3101.775,6.8e-3)(3101.825,3.0e-3)(3101.875,5.9e-3)(3101.925,4.4e-3)
(3101.975,3.9e-3)(3102.025,2.6e-3)(3102.075,4.2e-3)(3102.125,5.9e-3)(3102.175,5.1e-3)(3102.225,2.2e-3)(3102.275,4.8e-3)(3102.325,6.4e-3)(3102.375,5.0e-3)(3102.425,3.6e-3)
(3102.475,4.5e-3)(3102.525,6.7e-3)(3102.575,2.8e-3)(3102.625,3.7e-3)(3102.675,6.0e-3)(3102.725,7.5e-3)(3102.775,4.1e-3)(3102.825,5.5e-3)(3102.875,3.4e-3)(3102.925,6.9e-3)
(3102.975,5.2e-3)(3103.025,6.3e-3)(3103.075,4.7e-3)(3103.125,3.9e-3)(3103.175,2.4e-3)(3103.225,5.6e-3)(3103.275,2.0e-3)(3103.325,4.3e-3)(3103.375,5.1e-3)(3103.425,6.0e-3)
(3103.475,4.6e-3)(3103.525,3.8e-3)(3103.575,10.5e-3)(3103.625,6.6e-3)(3103.675,2.9e-3)(3103.725,4.3e-3)(3103.775,0.9e-3)(3103.825,3.6e-3)(3103.875,6.2e-3)(3103.925,4.9e-3)
(3103.975,2.7e-3)(3104.025,5.8e-3)(3104.075,6.9e-3)(3104.125,3.3e-3)(3104.175,4.7e-3)(3104.225,5.3e-3)(3104.275,4.0e-3)(3104.325,2.8e-3)(3104.375,6.4e-3)(3104.425,5.0e-3)
(3104.475,3.9e-3)(3104.525,7.1e-3)(3104.575,4.4e-3)(3104.625,5.7e-3)(3104.675,2.6e-3)(3104.725,4.2e-3)(3104.775,5.9e-3)(3104.825,3.5e-3)(3104.875,6.1e-3)(3104.925,4.6e-3)
(3104.975,5.4e-3)(3105.025,3.0e-3)(3105.075,4.9e-3)(3105.125,6.5e-3)(3105.175,2.9e-3)(3105.225,5.2e-3)(3105.275,4.5e-3)(3105.325,3.7e-3)(3105.375,6.8e-3)(3105.425,5.6e-3)
(3105.475,4.1e-3)(3105.525,5.3e-3)(3105.575,2.8e-3)(3105.625,7.4e-3)(3105.675,4.8e-3)(3105.725,3.6e-3)(3105.775,5.9e-3)(3105.825,4.3e-3)(3105.875,2.6e-3)(3105.925,6.3e-3)
(3105.975,5.0e-3)(3106.025,4.4e-3)(3106.075,6.7e-3)(3106.125,3.2e-3)(3106.175,5.5e-3)(3106.225,4.9e-3)(3106.275,2.3e-3)(3106.325,5.8e-3)(3106.375,6.1e-3)(3106.425,4.0e-3)
(3106.475,3.6e-3)(3106.525,5.2e-3)(3106.575,4.7e-3)(3106.625,6.4e-3)(3106.675,3.9e-3)(3106.725,5.1e-3)(3106.775,7.6e-3)(3106.825,4.5e-3)(3106.875,5.3e-3)(3106.925,3.4e-3)
(3106.975,5.7e-3)(3107.025,4.8e-3)(3107.075,6.5e-3)(3107.125,5.1e-3)};
\node[plabel, fill=white] at (rel axis cs:0.942,0.099) {(f)};
\end{axis}

% ---------------- (g)
\begin{axis}[panel, fgrid, at={(585pt,-345pt)}, width=367pt, height=152pt,
  ymin=-3, ymax=228, xticklabels={3100,3102,3104,3106},
  ytick={0,100,200}, yticklabels={0,100,200}, minor y tick num=1,
  ylabel={\textit{ν}}, ylabel style={at={(axis description cs:-0.185,0.487)}},
  xlabel={Frequency \textit{f}\,(MHz)}, xlabel style={at={(axis description cs:0.471,-0.296)}}]
\addplot[ybar interval, fill=pBar, draw=none] coordinates {(3098.9,3)(3100.9,3)(3102.9,3)(3104.9,3)(3107.15,3)};
\draw[densely dashed, black!70, line width=0.7pt] (axis cs:3102.97,-1) rectangle (axis cs:3103.12,7);
\coordinate (gA) at (axis cs:3102.98,7);
\coordinate (gB) at (axis cs:3103.12,7);
\node[font=\lfont, anchor=west, inner sep=0pt] at (rel axis cs:0.033,0.868) {24\,000 meas.};
\node[plabel] at (rel axis cs:0.946,0.092) {(g)};
\end{axis}
\begin{axis}[panel, at={(762pt,-383pt)}, width=170pt, height=52pt,
  xmin=3102.983, xmax=3103.114, ymin=-0.2, ymax=5.3,
  xtick={3103.0,3103.1}, xticklabels={3103.0,3103.1}, xticklabel pos=right,
  ytick={0,3}, yticklabels={0,3}, major tick length=4pt,
  axis background/.style={fill=white}, axis line style={black!75, line width=1pt},
  yticklabel style={inner sep=2pt}]
\addplot[ybar, bar width=0.0146, bar shift=0pt, fill=pIn, draw=none] coordinates {(3102.991,3)(3103.008,3)(3103.025,3)(3103.041,3)(3103.058,3)(3103.074,3)(3103.091,3)(3103.106,3)};
\end{axis}
\draw[densely dashed, black!70, line width=0.8pt] (gA) -- (762pt,-435pt);
\draw[densely dashed, black!70, line width=0.8pt] (gB) -- (932pt,-435pt);

% ---------------- (h)
\begin{axis}[panel, fgrid, clip marker paths=true, at={(970pt,-7pt)}, width=363pt, height=150pt,
  ymin=0.9726, ymax=1.0125, xticklabels={},
  ytick={0.98,0.99,1.00,1.01}, yticklabels={}, minor y tick num=1]
\addplot[oMkS] coordinates {
(3099.60,0.9947)(3099.64,0.9975)(3099.68,0.9980)(3099.72,0.9957)(3099.76,0.9986)(3099.80,0.9966)(3099.84,0.9939)(3099.88,0.9951)(3099.92,0.9963)(3099.96,0.9921)
(3100.00,0.9960)(3100.04,0.9931)(3100.08,0.9956)(3100.12,0.9930)(3100.16,0.9913)(3100.20,0.9905)(3100.24,0.9938)(3100.28,0.9902)(3100.32,0.9910)(3100.36,0.9898)
(3100.40,0.9907)(3100.44,0.9862)(3100.48,0.9889)(3100.52,0.9869)(3100.56,0.9857)(3100.60,0.9869)(3100.64,0.9872)(3100.68,0.9836)(3100.72,0.9857)(3100.76,0.9824)
(3100.80,0.9833)(3100.84,0.9850)(3100.88,0.9877)(3100.92,0.9843)(3100.96,0.9873)(3101.00,0.9863)(3101.04,0.9848)(3101.08,0.9863)(3101.12,0.9897)(3101.16,0.9879)
(3101.20,0.9870)(3101.24,0.9905)(3101.28,0.9908)(3101.32,0.9877)(3101.36,0.9925)(3101.40,0.9918)(3101.44,0.9936)(3101.48,0.9910)(3101.52,0.9919)(3101.56,0.9953)
(3101.60,0.9923)(3101.64,0.9913)(3101.68,0.9950)(3101.72,0.9943)(3101.76,0.9935)(3101.80,0.9961)(3101.84,0.9934)(3101.88,0.9943)(3101.92,0.9923)(3101.96,0.9953)
(3102.00,0.9938)(3102.04,0.9948)(3102.08,0.9914)(3102.12,0.9954)(3102.16,0.9941)(3102.20,0.9948)(3102.24,0.9918)(3102.28,0.9933)(3102.32,0.9914)(3102.36,0.9947)
(3102.40,0.9911)(3102.44,0.9934)(3102.48,0.9894)(3102.52,0.9908)(3102.56,0.9883)(3102.60,0.9906)(3102.64,0.9891)(3102.68,0.9909)(3102.72,0.9866)(3102.76,0.9890)
(3102.80,0.9866)(3102.84,0.9892)(3102.88,0.9870)(3102.92,0.9903)(3102.96,0.9878)(3103.00,0.9895)(3103.04,0.9873)(3103.08,0.9890)(3103.12,0.9871)(3103.16,0.9864)
(3103.20,0.9890)(3103.24,0.9906)(3103.28,0.9877)(3103.32,0.9926)(3103.36,0.9894)(3103.40,0.9895)(3103.44,0.9917)(3103.48,0.9936)(3103.52,0.9917)(3103.56,0.9936)
(3103.60,0.9952)(3103.64,0.9916)(3103.68,0.9934)(3103.72,0.9931)(3103.76,0.9949)(3103.80,0.9925)(3103.84,0.9947)(3103.88,0.9958)(3103.92,0.9965)(3103.96,0.9940)
(3104.00,0.9956)(3104.04,0.9926)(3104.08,0.9965)(3104.12,0.9948)(3104.16,0.9972)(3104.20,0.9942)(3104.24,0.9963)(3104.28,0.9944)(3104.32,0.9968)(3104.36,0.9934)
(3104.40,0.9964)(3104.44,0.9951)(3104.48,0.9925)(3104.52,0.9954)(3104.56,0.9937)(3104.60,0.9939)(3104.64,0.9964)(3104.68,0.9943)(3104.72,0.9920)(3104.76,0.9944)
(3104.80,0.9939)(3104.84,0.9915)(3104.88,0.9943)(3104.92,0.9913)(3104.96,0.9896)(3105.00,0.9938)(3105.04,0.9913)(3105.08,0.9921)(3105.12,0.9929)(3105.16,0.9895)
(3105.20,0.9906)(3105.24,0.9925)(3105.28,0.9899)(3105.32,0.9943)(3105.36,0.9920)(3105.40,0.9930)(3105.44,0.9903)(3105.48,0.9934)(3105.52,0.9925)(3105.56,0.9950)
(3105.60,0.9914)(3105.64,0.9944)(3105.68,0.9966)(3105.72,0.9933)(3105.76,0.9952)(3105.80,0.9967)(3105.84,0.9945)(3105.88,0.9954)(3105.92,0.9980)(3105.96,0.9956)
(3106.00,0.9970)(3106.04,0.9984)(3106.08,0.9952)(3106.12,0.9978)(3106.16,0.9958)
(3099.10,1.0085)(3099.26,1.0085)(3099.22,1.0035)(3099.30,1.0030)(3099.41,1.0040)(3099.52,1.0025)(3099.10,0.9955)(3099.37,0.9935)(3099.41,0.9910)(3099.48,0.9890)
(3099.26,0.9840)(3099.55,1.0005)(3099.45,0.9985)(3099.33,0.9980)(3099.50,0.9960)(3099.20,1.0000)
(3101.65,0.9870)(3101.60,0.9840)(3103.60,0.9825)(3103.95,0.9840)(3103.90,1.0100)(3103.93,1.0070)(3103.98,1.0050)(3103.75,1.0030)(3103.80,1.0010)(3104.02,1.0010)
(3103.52,0.9990)(3103.87,0.9870)(3103.68,0.9880)(3103.30,0.9910)(3104.20,0.9980)
(3106.03,0.9970)(3106.30,1.0045)(3106.26,1.0020)(3106.07,0.9905)(3106.22,0.9905)(3106.30,0.9885)(3106.34,0.9960)(3106.53,0.9960)(3106.80,0.9975)(3106.80,0.9895)
(3107.00,1.0095)(3107.08,0.9975)(3106.20,0.9990)(3105.95,0.9985)(3106.10,1.0000)(3106.15,0.9990)};
\addplot[black, line width=2pt, smooth] coordinates {(3099.0,0.9980)(3099.2,0.9978)(3099.4,0.9974)(3099.6,0.9968)(3099.8,0.9960)(3100.0,0.9945)(3100.2,0.9920)(3100.4,0.9889)(3100.6,0.9860)(3100.8,0.9845)(3101.0,0.9857)(3101.2,0.9888)(3101.4,0.9915)(3101.6,0.9932)(3101.8,0.9940)(3102.0,0.9941)(3102.2,0.9933)(3102.4,0.9917)(3102.6,0.9897)(3102.8,0.9881)(3103.0,0.9877)(3103.2,0.9887)(3103.4,0.9907)(3103.6,0.9928)(3103.8,0.9943)(3104.0,0.9950)(3104.2,0.9951)(3104.4,0.9949)(3104.6,0.9942)(3104.8,0.9930)(3105.0,0.9917)(3105.2,0.9912)(3105.4,0.9918)(3105.6,0.9935)(3105.8,0.9952)(3106.0,0.9964)(3106.2,0.9972)(3106.4,0.9978)(3106.6,0.9982)(3106.8,0.9985)(3107.0,0.9987)};
\node[plabel] at (rel axis cs:0.937,0.1) {(h)};
\end{axis}

% ---------------- (i)
\begin{axis}[panel, fgrid, at={(970pt,-176pt)}, width=364pt, height=152pt,
  ymode=log, log origin y=infty, ymin=4.9e-4, ymax=1.26e-2, xticklabels={},
  ytick={1e-3,3e-3,1e-2}, yticklabels={},
  minor ytick={5e-4,6e-4,7e-4,8e-4,9e-4,2e-3,4e-3,5e-3,6e-3,7e-3,8e-3,9e-3}]
\addplot[ybar, bar width=0.05, bar shift=0pt, fill=oBar, draw=oEdge, line width=0.3pt] coordinates {
(3099.125,9.3e-3)(3099.175,9.3e-3)(3099.225,3.0e-3)(3099.275,9.3e-3)(3099.325,9.3e-3)(3099.375,6.0e-3)(3099.425,5.5e-3)(3099.475,9.3e-3)(3099.525,4.5e-3)(3099.575,2.5e-3)
(3099.625,6.0e-3)(3099.675,10.5e-3)(3099.725,8.0e-3)(3099.775,6.0e-3)(3099.825,4.6e-3)(3099.875,4.0e-3)(3099.925,4.2e-3)(3099.975,2.6e-3)(3100.025,2.0e-3)(3100.075,1.6e-3)
(3100.125,1.3e-3)(3100.175,1.1e-3)(3100.225,0.95e-3)(3100.275,0.80e-3)(3100.325,0.72e-3)(3100.375,0.68e-3)(3100.425,0.65e-3)(3100.475,0.70e-3)(3100.525,0.80e-3)(3100.575,0.95e-3)
(3100.625,0.95e-3)(3100.675,1.00e-3)(3100.725,1.10e-3)(3100.775,0.90e-3)(3100.825,0.85e-3)(3100.875,0.75e-3)(3100.925,0.70e-3)(3100.975,0.68e-3)(3101.025,0.72e-3)(3101.075,0.80e-3)
(3101.125,0.90e-3)(3101.175,1.10e-3)(3101.225,1.40e-3)(3101.275,1.70e-3)(3101.325,2.00e-3)(3101.375,2.30e-3)(3101.425,2.60e-3)(3101.475,2.90e-3)(3101.525,2.70e-3)(3101.575,3.30e-3)
(3101.625,3.60e-3)(3101.675,3.50e-3)(3101.725,4.20e-3)(3101.775,3.80e-3)(3101.825,4.00e-3)(3101.875,4.40e-3)(3101.925,3.70e-3)(3101.975,3.50e-3)(3102.025,3.60e-3)(3102.075,3.00e-3)
(3102.125,2.80e-3)(3102.175,2.30e-3)(3102.225,2.00e-3)(3102.275,1.70e-3)(3102.325,1.50e-3)(3102.375,1.30e-3)(3102.425,1.10e-3)(3102.475,1.00e-3)(3102.525,0.90e-3)(3102.575,0.85e-3)
(3102.625,0.78e-3)(3102.675,0.75e-3)(3102.725,0.70e-3)(3102.775,0.66e-3)(3102.825,0.70e-3)(3102.875,0.65e-3)(3102.925,0.72e-3)(3102.975,0.75e-3)(3103.025,0.80e-3)(3103.075,0.85e-3)
(3103.125,0.95e-3)(3103.175,1.05e-3)(3103.225,1.20e-3)(3103.275,1.40e-3)(3103.325,1.70e-3)(3103.375,2.00e-3)(3103.425,2.50e-3)(3103.475,2.90e-3)(3103.525,3.20e-3)(3103.575,3.60e-3)
(3103.625,4.30e-3)(3103.675,5.50e-3)(3103.725,6.20e-3)(3103.775,5.00e-3)(3103.825,6.00e-3)(3103.875,5.40e-3)(3103.925,5.20e-3)(3103.975,9.30e-3)(3104.025,4.80e-3)(3104.075,5.20e-3)
(3104.125,4.40e-3)(3104.175,4.00e-3)(3104.225,3.60e-3)(3104.275,3.00e-3)(3104.325,2.60e-3)(3104.375,2.20e-3)(3104.425,1.80e-3)(3104.475,1.50e-3)(3104.525,1.30e-3)(3104.575,1.10e-3)
(3104.625,0.95e-3)(3104.675,0.80e-3)(3104.725,0.75e-3)(3104.775,0.70e-3)(3104.825,0.68e-3)(3104.875,0.66e-3)(3104.925,0.72e-3)(3104.975,0.85e-3)(3105.025,1.00e-3)(3105.075,1.05e-3)
(3105.125,1.10e-3)(3105.175,0.95e-3)(3105.225,0.80e-3)(3105.275,0.72e-3)(3105.325,0.70e-3)(3105.375,0.75e-3)(3105.425,0.85e-3)(3105.475,1.00e-3)(3105.525,1.20e-3)(3105.575,1.50e-3)
(3105.625,1.90e-3)(3105.675,2.40e-3)(3105.725,3.00e-3)(3105.775,3.80e-3)(3105.825,4.60e-3)(3105.875,5.80e-3)(3105.925,7.00e-3)(3105.975,9.30e-3)(3106.025,6.50e-3)(3106.075,9.30e-3)
(3106.125,7.00e-3)(3106.175,9.30e-3)(3106.375,4.60e-3)(3106.675,9.30e-3)(3106.925,9.30e-3)(3106.975,9.30e-3)};
\node[plabel, fill=white] at (rel axis cs:0.942,0.099) {(i)};
\end{axis}

% ---------------- (j)
\begin{axis}[panel, fgrid, at={(970pt,-345pt)}, width=362pt, height=152pt,
  ymin=-3, ymax=228, xticklabels={3100,3102,3104,3106},
  ytick={0,100,200}, yticklabels={}, minor y tick num=1,
  xlabel={Frequency \textit{f}\,(MHz)}, xlabel style={at={(axis description cs:0.474,-0.296)}}]
\addplot[ybar, bar width=0.05, bar shift=0pt, fill=oBar, draw=oEdge, line width=0.3pt] coordinates {
(3098.975,1)(3099.025,2)(3099.075,1)(3099.125,1)(3099.175,2)(3099.225,2)(3099.275,1)(3099.325,3)(3099.375,2)(3099.425,3)
(3099.475,2)(3099.525,4)(3099.575,3)(3099.625,5)(3099.675,4)(3099.725,7)(3099.775,8)(3099.825,11)(3099.875,12)(3099.925,17)
(3099.975,21)(3100.025,31)(3100.075,38)(3100.125,57)(3100.175,72)(3100.225,101)(3100.275,118)(3100.325,153)(3100.375,161)(3100.425,182)
(3100.475,168)(3100.525,164)(3100.575,136)(3100.625,115)(3100.675,103)(3100.725,118)(3100.775,107)(3100.825,134)(3100.875,154)(3100.925,178)
(3100.975,184)(3101.025,175)(3101.075,170)(3101.125,146)(3101.175,131)(3101.225,101)(3101.275,83)(3101.325,57)(3101.375,47)(3101.425,31)
(3101.475,27)(3101.525,19)(3101.575,18)(3101.625,14)(3101.675,15)(3101.725,12)(3101.775,13)(3101.825,11)(3101.875,13)(3101.925,12)
(3101.975,14)(3102.025,14)(3102.075,18)(3102.125,19)(3102.175,25)(3102.225,29)(3102.275,40)(3102.325,48)(3102.375,64)(3102.425,73)
(3102.475,93)(3102.525,102)(3102.575,124)(3102.625,131)(3102.675,152)(3102.725,157)(3102.775,175)(3102.825,178)(3102.875,195)(3102.925,203)
(3102.975,192)(3103.025,196)(3103.075,178)(3103.125,173)(3103.175,147)(3103.225,131)(3103.275,105)(3103.325,90)(3103.375,67)(3103.425,54)
(3103.475,38)(3103.525,31)(3103.575,21)(3103.625,18)(3103.675,11)(3103.725,10)(3103.775,7)(3103.825,7)(3103.875,4)(3103.925,5)
(3103.975,3)(3104.025,4)(3104.075,4)(3104.125,5)(3104.175,5)(3104.225,9)(3104.275,9)(3104.325,15)(3104.375,19)(3104.425,30)
(3104.475,38)(3104.525,60)(3104.575,78)(3104.625,108)(3104.675,124)(3104.725,153)(3104.775,162)(3104.825,175)(3104.875,171)(3104.925,177)
(3104.975,155)(3105.025,131)(3105.075,109)(3105.125,106)(3105.175,112)(3105.225,138)(3105.275,157)(3105.325,185)(3105.375,195)(3105.425,203)
(3105.475,182)(3105.525,163)(3105.575,125)(3105.625,101)(3105.675,67)(3105.725,50)(3105.775,30)(3105.825,23)(3105.875,13)(3105.925,10)
(3105.975,5)(3106.025,4)(3106.075,2)(3106.125,3)(3106.175,1)(3106.225,2)(3106.275,1)(3106.325,1)(3106.375,1)(3106.475,1)
(3106.575,1)(3106.675,1)(3106.825,1)(3106.975,1)};
\node[font=\lfont, anchor=west, inner sep=0pt] at (rel axis cs:0.022,0.862) {24\,000 meas.};
\node[plabel] at (rel axis cs:0.937,0.112) {(j)};
\end{axis}
\end{tikzpicture}
\end{document}
